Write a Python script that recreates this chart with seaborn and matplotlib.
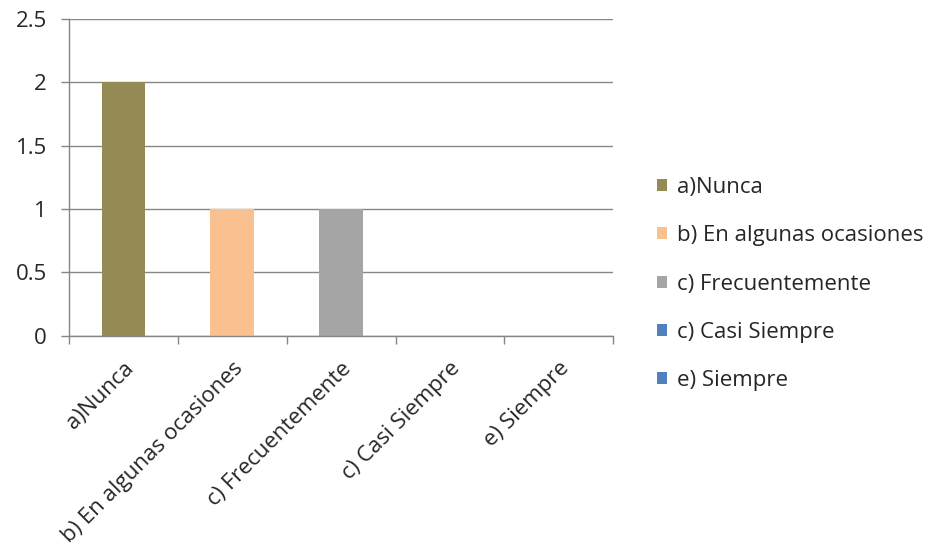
import pandas as pd
import matplotlib.pyplot as plt
import matplotlib.transforms as mtransforms
import seaborn as sns

# data
categorias = ['a)Nunca', 'b) En algunas ocasiones', 'c) Frecuentemente',
              'c) Casi Siempre', 'e) Siempre']
valores = [2, 1, 1, 0, 0]
colores = ['#948A54', '#FAC090', '#A5A5A5', '#4F81BD', '#4F81BD']
y_ticks = [0, 0.5, 1, 1.5, 2, 2.5]

df = pd.DataFrame({'categoria': categorias, 'valor': valores})

sns.set_style('white')
plt.rcParams['font.family'] = ['Open Sans', 'DejaVu Sans']
plt.rcParams['font.size'] = 16

fig = plt.figure(figsize=(9.32, 5.56), dpi=100)
ax = fig.add_axes([0.074, 0.396, 0.584, 0.570])

sns.barplot(data=df, x='categoria', y='valor', hue='categoria',
            palette=colores, dodge=False, width=0.4, legend=True,
            saturation=1, linewidth=0, ax=ax)

ax.set_ylim(0, 2.5)
ax.set_yticks(y_ticks)
ax.set_yticklabels([f'{t:g}' for t in y_ticks])
ax.set_xlim(-0.5, len(categorias) - 0.5)
ax.yaxis.grid(True, color='#868686', linewidth=1)
ax.set_axisbelow(True)
for side in ['top', 'right']:
    ax.spines[side].set_visible(False)
for side in ['left', 'bottom']:
    ax.spines[side].set_color('#868686')
    ax.spines[side].set_linewidth(1)

# category ticks sit on the boundaries between bars
ax.set_xticks([i - 0.5 for i in range(len(categorias) + 1)], minor=False)
ax.set_xticklabels([''] * (len(categorias) + 1))
ax.set_xticks(range(len(categorias)), minor=True)
ax.set_xticklabels(categorias, minor=True, rotation=45, ha='right',
                   rotation_mode='anchor', fontsize=16)
shift = mtransforms.ScaledTranslation(3 / 100, 0, fig.dpi_scale_trans)
for lbl in ax.get_xticklabels(minor=True):
    lbl.set_transform(lbl.get_transform() + shift)
ax.tick_params(axis='x', which='major', bottom=True, length=6, width=1,
               color='#868686', direction='out')
ax.tick_params(axis='x', which='minor', bottom=True, length=0, pad=16)
ax.tick_params(axis='y', left=True, length=6, width=1, color='#868686',
               direction='out', labelsize=16, pad=10)
ax.set_xlabel('')
ax.set_ylabel('')

handles, labels = ax.get_legend_handles_labels()
ax.legend(handles, labels, loc='center left', bbox_to_anchor=(0.684, 0.489),
          bbox_transform=fig.transFigure, frameon=False, fontsize=16,
          handlelength=0.45, handleheight=0.45, handletextpad=0.45,
          labelspacing=1.23)

fig.savefig('out.png', dpi=100)
